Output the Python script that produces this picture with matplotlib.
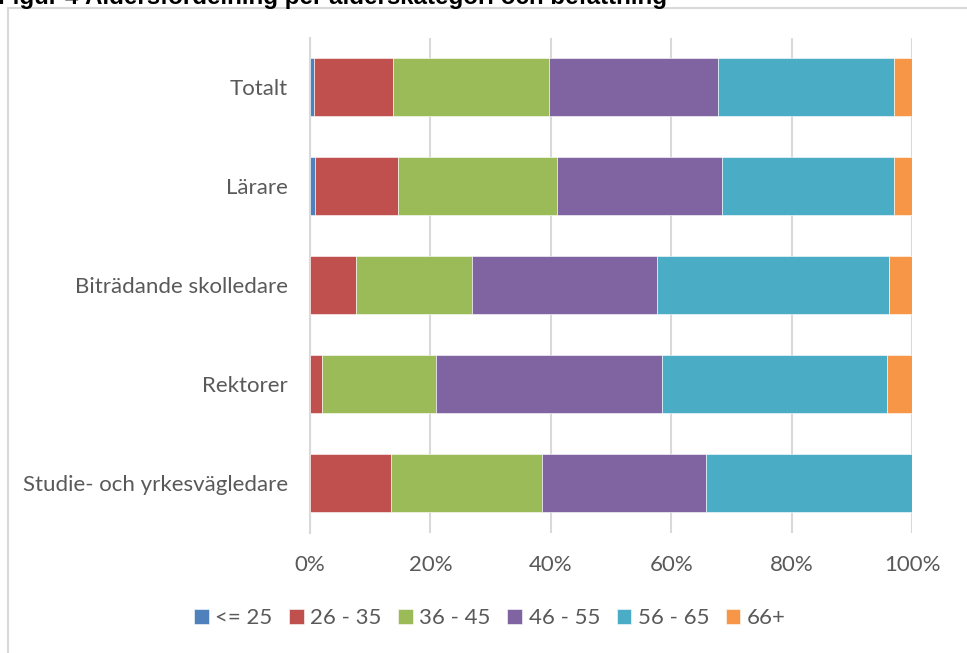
import matplotlib
matplotlib.use("Agg")
from matplotlib import pyplot as plt
from matplotlib.patches import Rectangle
import numpy as np

# categories (top to bottom) and share per age group, in percent
categories = ["Totalt", "Lärare", "Biträdande skolledare", "Rektorer",
              "Studie- och yrkesvägledare"]
age_groups = ["<= 25", "26 - 35", "36 - 45", "46 - 55", "56 - 65", "66+"]
le25 = [0.7, 0.9, 0.0, 0.0, 0.0]
a26_35 = [13.1, 13.7, 7.6, 2.0, 13.5]
a36_45 = [25.9, 26.5, 19.3, 19.0, 25.0]
a46_55 = [28.0, 27.4, 30.7, 37.4, 27.3]
a56_65 = [29.3, 28.5, 38.5, 37.5, 34.2]
a66 = [3.0, 3.0, 3.9, 4.1, 0.0]
series = [le25, a26_35, a36_45, a46_55, a56_65, a66]
colors = ["#4F81BD", "#C0504D", "#9BBB59", "#8064A2", "#4BACC6", "#F79646"]

plt.rcParams['font.family'] = ['Lato', 'DejaVu Sans']
text_col = "#595959"
grid_col = "#d9d9d9"

fig = plt.figure(figsize=(9.67, 6.53), dpi=100)
W, H = 967, 653
ax = fig.add_axes([310 / W, 1 - 532.5 / H, 602 / W, 495 / H])

y = np.arange(len(categories))
left = np.zeros(len(categories))
for vals, name, col in zip(series, age_groups, colors):
    v = np.array(vals) / 100.0
    ax.barh(y, v, left=left, height=0.586, color=col, label=name,
            edgecolor="white", linewidth=0.4, zorder=3)
    left += v

ax.set_ylim(len(categories) - 0.5, -0.5)
ax.set_xlim(0, 1)
ax.set_xticks(np.arange(0, 1.01, 0.2))
ax.set_xticklabels([f"{int(round(t * 100))}%" for t in np.arange(0, 1.01, 0.2)])
ax.set_yticks(y)
ax.set_yticklabels(categories)
ax.tick_params(axis="both", length=0, colors=text_col, labelsize=16)
ax.tick_params(axis="y", pad=16)
ax.tick_params(axis="x", pad=16.5)
ax.grid(axis="x", color=grid_col, linewidth=1.5, zorder=0)
ax.set_axisbelow(True)
for s in ["top", "right", "bottom"]:
    ax.spines[s].set_visible(False)
ax.spines["left"].set_color(grid_col)
ax.spines["left"].set_linewidth(1.5)

fig.legend(loc="center", bbox_to_anchor=(490 / W, 1 - 618 / H), ncol=6,
           frameon=False, fontsize=16, labelcolor=text_col,
           handlelength=0.65, handleheight=0.65, handletextpad=0.3,
           columnspacing=0.75)

# chart frame, running off the right and bottom edge
fig.patches.append(Rectangle((8 / W, -0.1), 1.2, 1.1 - 8 / H,
                             transform=fig.transFigure, fill=False,
                             edgecolor=grid_col, linewidth=1.5))

# caption, mostly cut off at the top
fig.text(-0.002, 1 - 4.3 / H, "Figur 4 Åldersfördelning per ålderskategori och befattning",
         family=["Liberation Sans", "DejaVu Sans"], weight="bold",
         fontsize=17.4, va="baseline", ha="left", color="black")

fig.savefig("out.png", dpi=100)
